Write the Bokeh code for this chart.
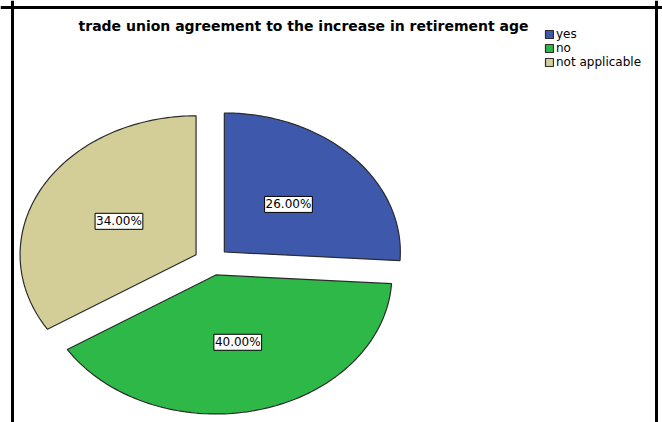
import numpy as np
from bokeh.plotting import figure
from bokeh.models import Range1d, ColumnDataSource, Label, Span, Legend, LegendItem
from bokeh.embed import file_html
from bokeh.resources import INLINE

title = "trade union agreement to the increase in retirement age"
categories = ["yes", "no", "not applicable"]
percents = [26.0, 40.0, 34.0]
colors = ["#3E58AC", "#2EB848", "#D3CE97"]

W, H = 662, 422
RX, RY = 176, 139          # pie radii in px (elliptical pie)
CX, CY = 211, 261          # pie centre in canvas px (from left, from top)
EXPLODE = 0.1
FONT = "DejaVu Sans"

x0 = -CX / RX
x1 = x0 + W / RX
y1 = CY / RY
y0 = y1 - H / RY

p = figure(width=W, height=H, x_range=Range1d(x0, x1), y_range=Range1d(y0, y1),
           toolbar_location=None, output_backend="svg", min_border=0)
p.axis.visible = False
p.xgrid.visible = False
p.ygrid.visible = False
p.outline_line_color = None
p.background_fill_color = "white"
p.border_fill_color = "white"

xs, ys, lx, ly, txt = [], [], [], [], []
start = np.pi / 2
for pct in percents:
    sweep = pct / 100.0 * 2 * np.pi
    a0, a1 = start - sweep, start
    mid = (a0 + a1) / 2
    ox, oy = EXPLODE * np.cos(mid), EXPLODE * np.sin(mid)
    t = np.linspace(a1, a0, 120)
    xs.append(list(np.concatenate([[ox], ox + np.cos(t), [ox]])))
    ys.append(list(np.concatenate([[oy], oy + np.sin(t), [oy]])))
    lx.append(ox + 0.5 * np.cos(mid))
    ly.append(oy + 0.5 * np.sin(mid))
    txt.append(f"{pct:.2f}%")
    start = a0

src = ColumnDataSource(dict(xs=xs, ys=ys, color=colors, cat=categories))
r = p.patches("xs", "ys", source=src, fill_color="color", line_color="#2b2b2b", line_width=1.2)

for x, y, t in zip(lx, ly, txt):
    p.add_layout(Label(x=x, y=y, text=t, text_align="center", text_baseline="middle",
                       text_font_size="12px", text_font=FONT, text_color="black", padding=1,
                       background_fill_color="white", border_line_color="black",
                       border_line_width=1))

items = [LegendItem(label=c, renderers=[r], index=i) for i, c in enumerate(categories)]
legend = Legend(items=items, location=(544, 353), padding=0, margin=0, spacing=0,
                glyph_width=10, glyph_height=10, label_standoff=2, label_height=10,
                label_text_font_size="12px", label_text_font=FONT, label_text_color="black",
                border_line_color=None, background_fill_alpha=0)
p.add_layout(legend)

p.add_layout(Label(x=303, y=H - 25, x_units="screen", y_units="screen", text=title,
                   text_align="center", text_baseline="alphabetic", text_font_size="14px",
                   text_font_style="bold", text_font=FONT, text_color="black"))

for loc, dim in [(x0 + 12 / RX, "height"), (x0 + 656 / RX, "height"), (y1 - 7 / RY, "width")]:
    p.add_layout(Span(location=loc, dimension=dim, line_color="black", line_width=3))

open("out.html", "w").write(file_html(p, INLINE))
